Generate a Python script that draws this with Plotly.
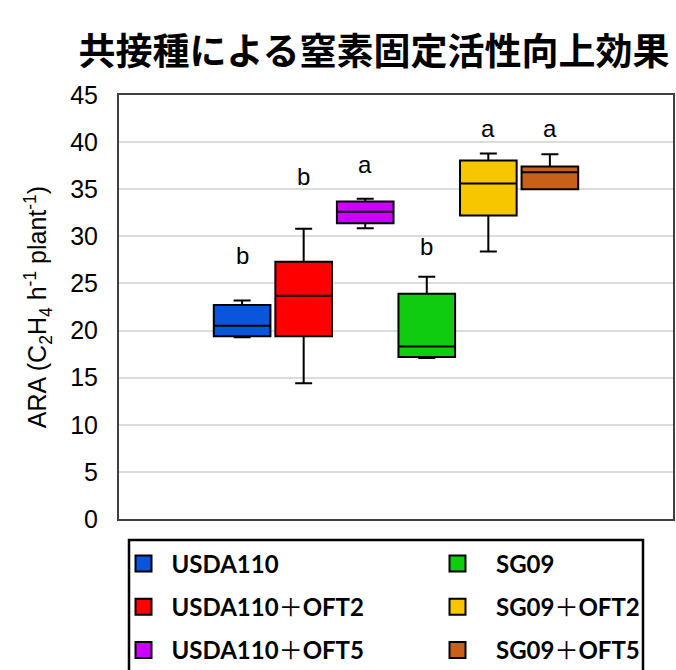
import plotly.graph_objects as go

# Treatments (inoculation combinations)
groups = ["USDA110", "USDA110＋OFT2", "USDA110＋OFT5", "SG09", "SG09＋OFT2", "SG09＋OFT5"]
# Box statistics of ARA per treatment
lower = [19.3, 14.4, 30.85, 17.1, 28.4, 35.0]
q1 = [19.4, 19.4, 31.4, 17.2, 32.2, 35.0]
median = [20.5, 23.7, 32.6, 18.3, 35.6, 36.8]
q3 = [22.7, 27.3, 33.7, 23.9, 38.05, 37.4]
upper = [23.2, 30.8, 34.0, 25.7, 38.8, 38.7]
# Significance letters
letters = ["b", "b", "a", "b", "a", "a"]
y_ticks = [0, 5, 10, 15, 20, 25, 30, 35, 40, 45]

colors = ["#0A55DC", "#FF0000", "#CC00FF", "#10CC10", "#F7C600", "#C8601A"]
positions = [1, 2, 3, 4, 5, 6]
letter_y = [28.0, 36.3, 37.6, 28.9, 41.4, 41.4]
legend_of = ["legend", "legend", "legend", "legend2", "legend2", "legend2"]

# plot-area geometry in pixels, used to place the legends below the axes
W, H = 676, 670
PLOT_L, PLOT_W, PLOT_B, PLOT_H = 119, 554, 519, 424


def px_x(px):
    return (px - PLOT_L) / PLOT_W


def px_y(px):
    return -(px - PLOT_B) / PLOT_H


fig = go.Figure()

for i, name in enumerate(groups):
    fig.add_trace(go.Box(
        x=[positions[i]],
        q1=[q1[i]], median=[median[i]], q3=[q3[i]],
        lowerfence=[lower[i]], upperfence=[upper[i]],
        name=name,
        width=0.92,
        whiskerwidth=0.3,
        fillcolor=colors[i],
        line=dict(color="#000000", width=2),
        showlegend=False,
        hoverinfo="skip",
    ))

# Legend keys: filled squares with black outline
for i, name in enumerate(groups):
    label = name.replace("＋", '<span style="font-weight:normal">＋</span>')
    fig.add_trace(go.Scatter(
        x=[None], y=[None],
        mode="markers",
        marker=dict(symbol="square", size=16, color=colors[i],
                    line=dict(color="#000000", width=2)),
        name=label,
        legend=legend_of[i],
        legendgroup="g%d" % i,
        showlegend=True,
    ))

for i, t in enumerate(letters):
    fig.add_annotation(
        x=positions[i], y=letter_y[i], xref="x", yref="y",
        text=t, showarrow=False,
        font=dict(family="Liberation Sans, Arial", size=24, color="#000000"),
        xanchor="center", yanchor="middle",
    )

legend_style = dict(
    orientation="v",
    font=dict(family="Lato, Open Sans, Noto Sans CJK JP", size=24, color="#000000", weight="bold"),
    bgcolor="rgba(0,0,0,0)",
    borderwidth=0,
    tracegroupgap=9,
    xanchor="left",
    yanchor="top",
    itemsizing="trace",
)

fig.update_layout(
    width=W, height=H,
    margin=dict(l=PLOT_L, r=W - PLOT_L - PLOT_W, t=PLOT_B - PLOT_H,
                b=H - PLOT_B, pad=0, autoexpand=False),
    paper_bgcolor="#ffffff",
    plot_bgcolor="#ffffff",
    title=dict(
        text="共接種による窒素固定活性向上効果",
        font=dict(family="Noto Sans CJK JP", size=37, color="#000000", weight="bold"),
        x=374 / W, xref="container", xanchor="center",
        y=1 - 52 / H, yref="container", yanchor="middle",
    ),
    xaxis=dict(
        range=[-1, 8],
        showticklabels=False, ticks="",
        showgrid=False, zeroline=False,
        showline=True, mirror=True, linecolor="#404040", linewidth=2,
    ),
    yaxis=dict(
        range=[0, 45],
        tickvals=y_ticks,
        tickfont=dict(family="Liberation Sans, Arial", size=25, color="#000000"),
        ticks="", ticklabelstandoff=14,
        showgrid=True, gridcolor="#DCDCDC", gridwidth=2,
        zeroline=False,
        showline=True, mirror=True, linecolor="#404040", linewidth=2,
        title=dict(
            text="ARA (C<sub>2</sub>H<sub>4</sub> h<sup>-1</sup> plant<sup>-1</sup>)",
            font=dict(family="Liberation Sans, Arial", size=25, color="#000000"),
            standoff=16,
        ),
    ),
    legend=dict(x=px_x(115.5), y=px_y(541.5), itemwidth=46, **legend_style),
    legend2=dict(x=px_x(419), y=px_y(541.5), itemwidth=67, **legend_style),
    showlegend=True,
)

# Frame around the legend
fig.add_shape(
    type="rect", xref="paper", yref="paper",
    x0=px_x(129), x1=px_x(643),
    y0=px_y(540), y1=px_y(720),
    line=dict(color="#000000", width=2.5),
    fillcolor="rgba(0,0,0,0)",
    layer="above",
)

fig.write_html("out.html")
